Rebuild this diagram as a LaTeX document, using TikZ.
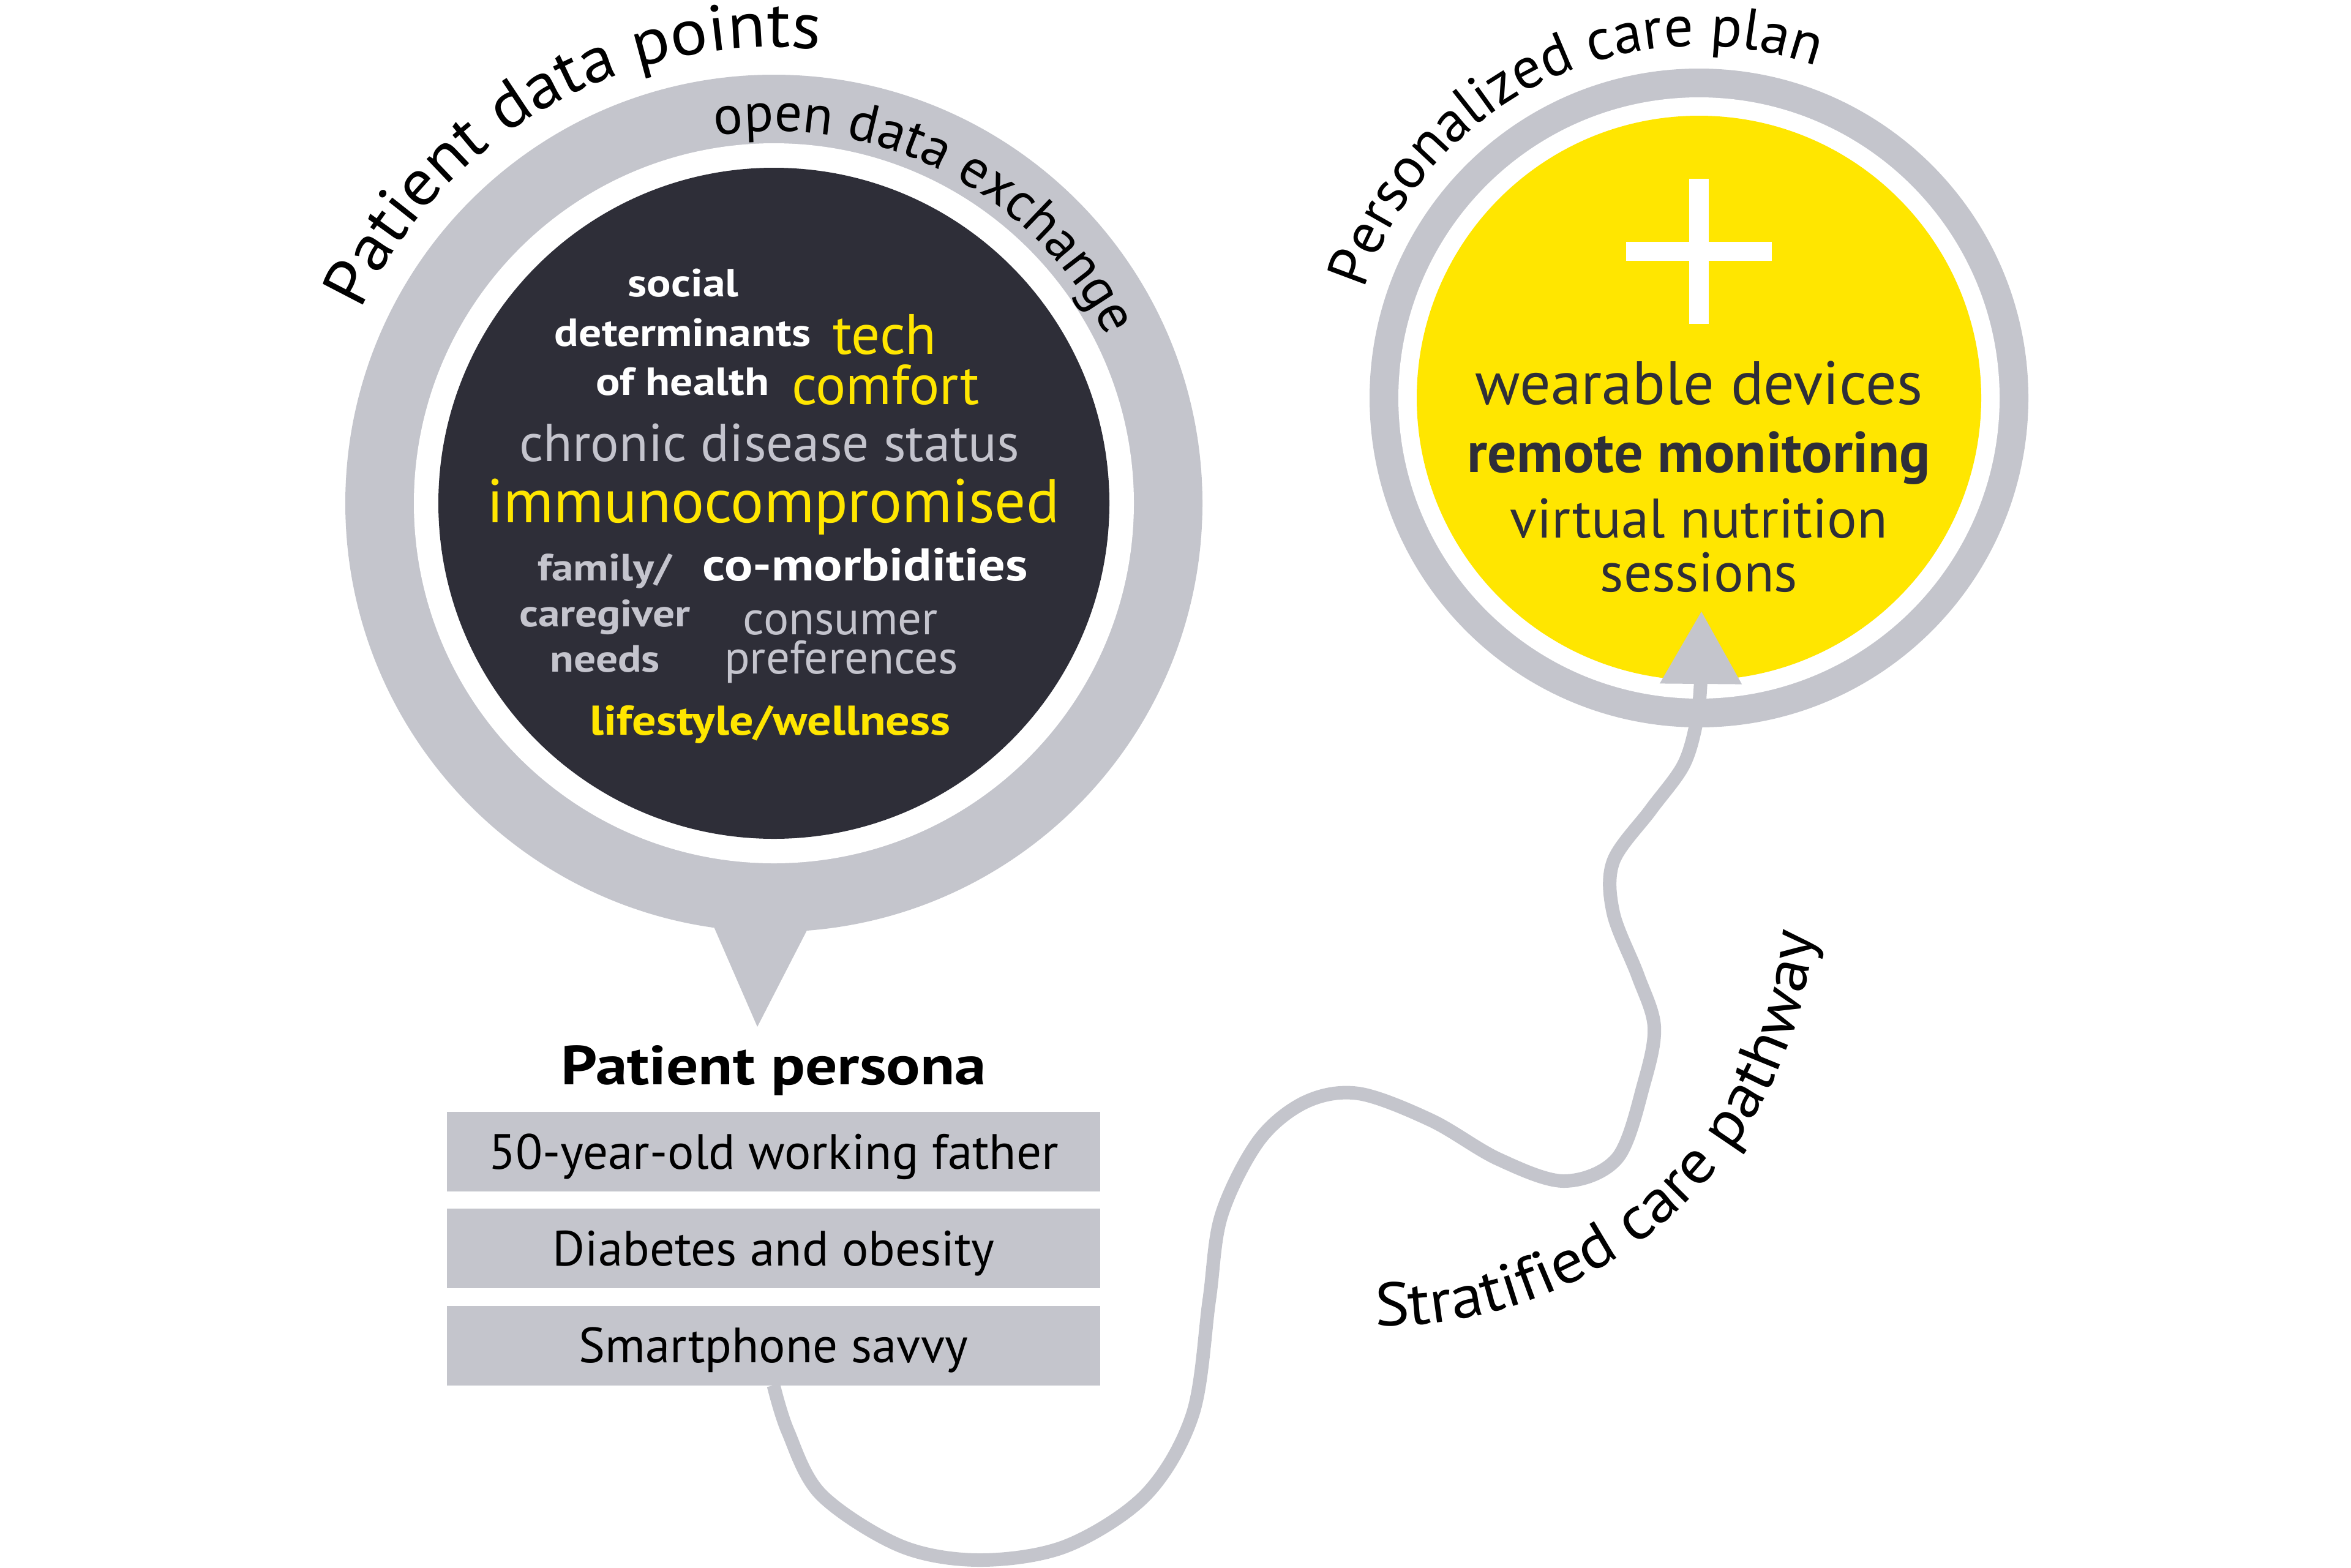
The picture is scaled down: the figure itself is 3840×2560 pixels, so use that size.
\documentclass[tikz,border=0pt]{standalone}
\usepackage{fontspec}
\setmainfont{PT Sans}
\newfontfamily\wideA[FakeStretch=1.15]{PT Sans}
\newfontfamily\wideB[FakeStretch=1.07]{PT Sans}
\usetikzlibrary{decorations.text,arrows.meta}
\definecolor{ringgray}{HTML}{C4C5CC}
\definecolor{darkc}{HTML}{2E2E38}
\definecolor{eyyellow}{HTML}{FFE600}
\definecolor{txtgray}{HTML}{C4C4CD}
\newcommand{\fs}[1]{\fontsize{#1}{#1}\selectfont}
\begin{document}
\begin{tikzpicture}[x=1pt,y=1pt,
  disc/.style={circle,inner sep=0pt,outer sep=0pt,draw=none},
  lbl/.style={anchor=base,inner sep=0pt},
  persbox/.style={fill=ringgray,minimum width=1067pt,minimum height=130pt,inner sep=0pt,
     text height=56pt,text depth=0pt,font=\fs{81},text=black},
  pathline/.style={draw=ringgray,line width=22pt},
  curvetext/.style={decorate,decoration={text along path,text align=left}}
]
\useasboundingbox (0,0) rectangle (3840,-2560);
\fill[white] (0,0) rectangle (3840,-2560);

% ---------- left circle ----------
\node[disc,fill=ringgray,minimum size=1400pt] (Lring) at (1264,-822) {};
\fill[ringgray] (1160,-1500) -- (1237,-1677) -- (1328,-1500) -- cycle;
\node[disc,fill=white,minimum size=1176pt] (Lgap) at (1264,-822) {};
\node[disc,fill=darkc,minimum size=1096pt] (Ldark) at (1264,-822) {};

\path[curvetext,decoration={text={|\wideB\fs{106}|Patient data points}}]
  (1264,-822) ++(155:745) arc[start angle=155,end angle=50,radius=745];
\path[curvetext,decoration={text={|\fs{89}|open data exchange}}]
  (1264,-822) ++(99:608) arc[start angle=99,end angle=0,radius=608];

\node[lbl,font=\wideA\bfseries\fs{64},text=white] (t1) at (1116,-484) {social};
\node[lbl,font=\wideA\bfseries\fs{64},text=white] (t2) at (1115,-565) {determinants};
\node[lbl,font=\fs{93},text=eyyellow,anchor=base west] (t3) at (1360,-578) {tech};
\node[lbl,font=\wideA\bfseries\fs{64},text=white] (t4) at (1115,-645) {of health};
\node[lbl,font=\fs{92},text=eyyellow,anchor=base west] (t5) at (1293,-660) {comfort};
\node[lbl,font=\fs{87},text=txtgray] (t6) at (1257,-753) {chronic disease status};
\node[lbl,font=\fs{101},text=eyyellow] (t7) at (1263,-853) {immunocompromised};
\node[lbl,font=\wideA\bfseries\fs{62},text=txtgray] (t8) at (988,-948) {family/};
\node[lbl,font=\wideA\bfseries\fs{75},text=white] (t9) at (1413,-948) {co-morbidities};
\node[lbl,font=\wideA\bfseries\fs{62},text=txtgray] (t10) at (988,-1023) {caregiver};
\node[lbl,font=\fs{77},text=txtgray] (t11) at (1373,-1036) {consumer};
\node[lbl,font=\wideA\bfseries\fs{62},text=txtgray] (t12) at (988,-1097) {needs};
\node[lbl,font=\fs{77},text=txtgray] (t13) at (1374,-1100) {preferences};
\node[lbl,font=\wideA\bfseries\fs{68},text=eyyellow] (t14) at (1258,-1200) {lifestyle/wellness};

% ---------- persona ----------
\node[lbl,font=\wideA\bfseries\fs{90},text=black] (ptitle) at (1264,-1771) {Patient persona};
\node[persbox] (box1) at (1263.5,-1881) {50-year-old working father};
\node[persbox] (box2) at (1263.5,-2039) {Diabetes and obesity};
\node[persbox] (box3) at (1263.5,-2197.5) {Smartphone savvy};

% ---------- right circle ----------
\node[disc,fill=ringgray,minimum size=1076pt] (Rring) at (2775,-650) {};
\node[disc,fill=white,minimum size=982pt] (Rgap) at (2775,-650) {};
\node[disc,fill=eyyellow,minimum size=922pt] (Rdisc) at (2775,-650) {};
\fill[white] (2759,-292) rectangle (2791,-529);
\fill[white] (2656,-395) rectangle (2894,-426);

\path[curvetext,decoration={text={|\fs{95}|Personalized care plan}}]
  (2775,-650) ++(162:575) arc[start angle=162,end angle=30,radius=575];

\node[lbl,font=\fs{100},text=darkc] (r1) at (2775,-660) {wearable devices};
\node[lbl,font=\bfseries\fs{94},text=darkc] (r2) at (2775,-771) {remote monitoring};
\node[lbl,font=\fs{91},text=darkc] (r3) at (2775,-878) {virtual nutrition};
\node[lbl,font=\fs{91},text=darkc] (r4) at (2775,-966) {sessions};

% ---------- pathway ----------
\coordinate (tipR) at (2779,-998);
\draw[pathline] plot[smooth,tension=0.55] coordinates {
  (box3.south) (1287,-2338) (1341,-2441) (1471,-2525) (1601,-2548) (1742,-2525)
  (1872,-2441) (1948,-2310) (1975,-2124) (1995,-1985) (2056,-1863) (2132,-1800)
  (2219,-1786) (2338,-1830) (2447,-1893) (2555,-1929) (2642,-1891) (2685,-1770)
  (2702,-1677) (2675,-1593) (2635,-1491) (2635,-1407) (2696,-1323) (2750,-1249)
  (2772,-1174) (2778,-1110)};
\draw[draw=ringgray,line width=22pt,-{Triangle[width=128pt,length=119pt]}]
  (2778,-1112) -- (tipR);

\path[curvetext,decoration={text={|\wideB\fs{100}|Stratified care pathway}}]
  (2262,-1462) ++(-91.3:703) arc[start angle=-91.3,end angle=20,radius=703];
\end{tikzpicture}
\end{document}
